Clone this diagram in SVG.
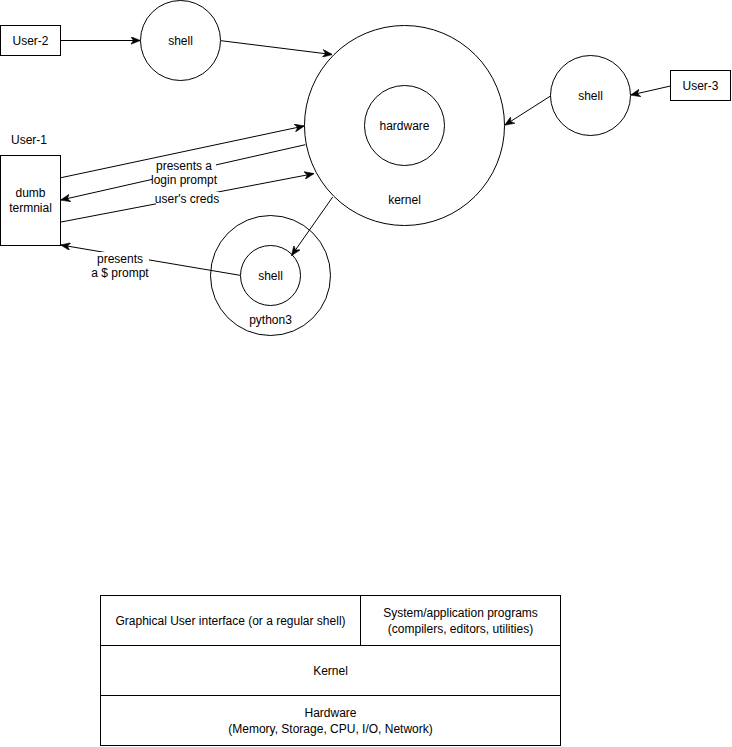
<svg xmlns="http://www.w3.org/2000/svg" width="732" height="747" viewBox="0 0 732 747">
<style>
.s{fill:#fff;stroke:#000;stroke-width:1}
.t{font-family:"Liberation Sans",Arial,sans-serif;font-size:12px;fill:#000;text-anchor:middle;dominant-baseline:central}
.c{fill:none;stroke:#000;stroke-width:1}
.bg{fill:#fff;stroke:none}
</style>
<defs>
<marker id="ah" viewBox="0 0 10 8" refX="9.5" refY="4" markerWidth="10" markerHeight="8" markerUnits="userSpaceOnUse" orient="auto">
<path d="M0,0 L10,4 L0,8 L3,4 z" fill="#000" stroke="#000" stroke-width="0.5"/>
</marker>
</defs>
<rect width="732" height="747" fill="#fff"/>

<g id="kernel">
<circle class="s" cx="404.5" cy="125.5" r="100"/>
<text class="t" x="404.5" y="200">kernel</text>
</g>
<g id="hardware">
<circle class="s" cx="404.5" cy="125.5" r="40"/>
<text class="t" x="404.5" y="125.5">hardware</text>
</g>
<g id="user2">
<rect class="s" x="0.5" y="25.5" width="60" height="30"/>
<text class="t" x="30.5" y="40.5">User-2</text>
</g>
<g id="shell1">
<circle class="s" cx="180.5" cy="40.5" r="40"/>
<text class="t" x="180.5" y="40.5">shell</text>
</g>
<g id="shell3">
<circle class="s" cx="590.5" cy="95.5" r="40"/>
<text class="t" x="590.5" y="95.5">shell</text>
</g>
<g id="user3">
<rect class="s" x="670.5" y="70.5" width="60" height="30"/>
<text class="t" x="700.5" y="85.5">User-3</text>
</g>
<g id="user1">
<text class="t" x="29" y="140">User-1</text>
<rect class="s" x="0.5" y="155.5" width="60" height="90"/>
<text class="t" x="30.5" y="193">dumb</text>
<text class="t" x="30.5" y="208">termnial</text>
</g>
<g id="python3">
<circle class="s" cx="270.5" cy="275.5" r="60"/>
<text class="t" x="270.5" y="320">python3</text>
</g>
<g id="shell2">
<circle class="s" cx="270.5" cy="275.5" r="30"/>
<text class="t" x="270.5" y="275.5">shell</text>
</g>

<g id="connectors">
<line class="c" x1="60.5" y1="40.5" x2="140" y2="40.5" marker-end="url(#ah)"/>
<line class="c" x1="221" y1="40.7" x2="332" y2="54.5" marker-end="url(#ah)"/>
<line class="c" x1="670.5" y1="86" x2="631" y2="95" marker-end="url(#ah)"/>
<line class="c" x1="550.5" y1="96" x2="505" y2="125" marker-end="url(#ah)"/>
<line class="c" x1="61" y1="177.7" x2="304" y2="126" marker-end="url(#ah)"/>
<line class="c" x1="305.3" y1="144.7" x2="61" y2="200" marker-end="url(#ah)"/>
<line class="c" x1="61" y1="222" x2="313.7" y2="173.7" marker-end="url(#ah)"/>
<line class="c" x1="332.7" y1="197" x2="291.7" y2="255.3" marker-end="url(#ah)"/>
<line class="c" x1="240" y1="275.3" x2="61" y2="245" marker-end="url(#ah)"/>
<rect class="bg" x="152" y="159" width="64" height="28"/>
<text class="t" x="184" y="165.7">presents a</text>
<rect class="bg" x="150" y="187" width="68" height="1"/>
<text class="t" x="184" y="180">login prompt</text>
<rect class="bg" x="156" y="192" width="63" height="14"/>
<text class="t" x="187" y="198.7">user's creds</text>
<rect class="bg" x="92" y="252" width="57" height="28"/>
<text class="t" x="120" y="258.7">presents</text>
<text class="t" x="120" y="272.7">a $ prompt</text>
</g>

<g id="stack">
<rect class="s" x="100.5" y="595.5" width="260" height="50"/>
<text class="t" x="230.5" y="620.5">Graphical User interface (or a regular shell)</text>
<rect class="s" x="360.5" y="595.5" width="200" height="50"/>
<text class="t" x="460.5" y="612.5">System/application programs</text>
<text class="t" x="460.5" y="628.5">(compilers, editors, utilities)</text>
<rect class="s" x="100.5" y="645.5" width="460" height="50"/>
<text class="t" x="330.5" y="670.5">Kernel</text>
<rect class="s" x="100.5" y="695.5" width="460" height="50"/>
<text class="t" x="330.5" y="712.5">Hardware</text>
<text class="t" x="330.5" y="728.5">(Memory, Storage, CPU, I/O, Network)</text>
</g>
</svg>
